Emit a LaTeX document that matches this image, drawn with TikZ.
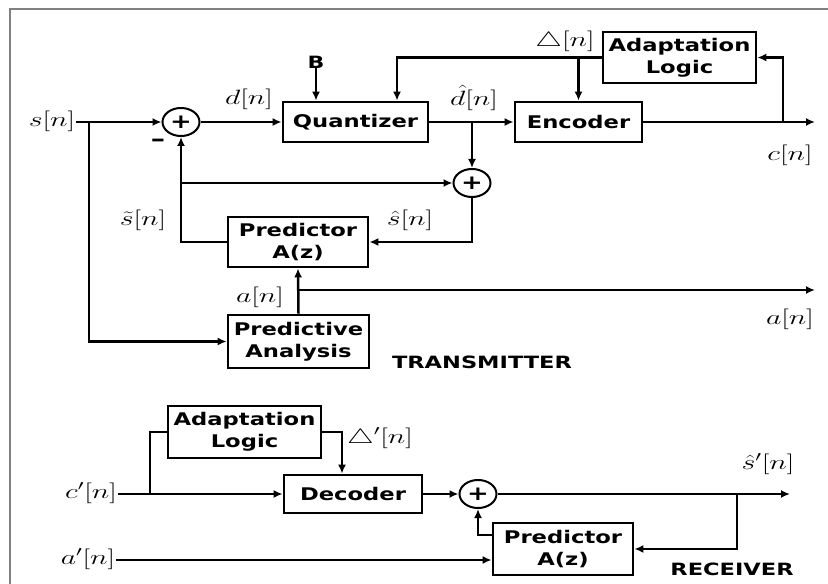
\documentclass[tikz,border=0pt]{standalone}
\usepackage{fontspec}
\usepackage{graphicx}
\usetikzlibrary{arrows.meta,shapes.geometric,calc}
\newfontfamily\boxfont[FakeStretch=1.3]{DejaVu Sans}
\newfontfamily\ttlfont[FakeStretch=1.33]{DejaVu Sans}
\newcommand{\mlab}[1]{\scalebox{1.45}[1.0]{\fontsize{20.74}{24}\selectfont$#1$}}
\tikzset{
  blk/.style={draw, line width=2.8bp, rectangle, align=center, inner sep=0pt,
    font=\boxfont\bfseries\fontsize{17.5}{22}\selectfont},
  sumnode/.style={draw, ellipse, line width=2bp, minimum width=37bp, minimum height=28bp, inner sep=0pt,
    font=\boxfont\bfseries\fontsize{20}{20}\selectfont},
  lbl/.style={inner sep=1bp},
  ttl/.style={font=\ttlfont\bfseries\fontsize{17}{20}\selectfont, inner sep=0pt},
  wire/.style={line width=2.5bp},
  arr/.style={line width=2.5bp, -{Latex[length=9bp,width=8bp]}},
}
\begin{document}
\begin{tikzpicture}[x=1bp,y=-1bp]
\useasboundingbox (0,0) rectangle (828,584);
\fill[white] (0,0) rectangle (828,584);
% frame
\draw[gray, line width=2bp] (10,584) -- (10,9) -- (828,9);

% ---------- TRANSMITTER ----------
\node[blk, minimum width=145bp, minimum height=40bp] (Q) at (355.5,122) {Quantizer};
\node[blk, minimum width=127bp, minimum height=40bp] (E) at (578.5,122) {Encoder};
\node[blk, minimum width=153bp, minimum height=51bp] (AT) at (679.5,57.5) {Adaptation\\Logic};
\node[blk, minimum width=140bp, minimum height=50bp] (PT) at (298,242) {Predictor\\A(z)};
\node[blk, minimum width=141bp, minimum height=53bp] (PA) at (298.5,341.5) {Predictive\\Analysis};
\node[sumnode] (S1) at (181,122) {+};
\node[sumnode] (S2) at (472,183) {+};

\node[lbl] (sn) at (52,121) {\mlab{s[n]}};
\node[lbl] (dn) at (249,99) {\mlab{d[n]}};
\node[lbl] (dhn) at (474,98) {\mlab{\hat{d}[n]}};
\node[lbl] (Dn) at (565,41) {\mlab{\triangle[n]}};
\node[lbl] (cn) at (790,155) {\mlab{c[n]}};
\node[lbl] (stn) at (143,220) {\mlab{\tilde{s}[n]}};
\node[lbl] (shn) at (410,220) {\mlab{\hat{s}[n]}};
\node[lbl] (an1) at (260,297) {\mlab{a[n]}};
\node[lbl] (an2) at (790,319) {\mlab{a[n]}};
\node[font=\boxfont\bfseries\fontsize{17}{19}\selectfont, inner sep=0pt] (B) at (316,62) {B};
\node[font=\boxfont\bfseries\fontsize{22}{22}\selectfont, inner sep=0pt] (minus) at (158,143) {–};
\node[ttl] (TX) at (482,362) {TRANSMITTER};

\coordinate (sout) at (815,122);
\coordinate (aout) at (815,290);
\coordinate (aj) at (298,290);

% wires
\draw[arr] (sn.east |- 0,122) -- (S1.west);
\draw[arr] (89,122) |- (PA.west);
\draw[arr] (S1.east) -- (Q.west);
\draw[arr] (B.south) -- (B.south |- Q.north);
\draw[arr] (AT.west) -| ([xshift=41.5bp]Q.north);
\draw[arr] (AT.west -| E.north) -- (E.north);
\draw[arr] (Q.east) -- (E.west);
\draw[arr] (S2.north |- Q.east) -- (S2.north);
\draw[arr] (PT.west) -| (S1.south);
\draw[arr] (S1.south |- S2.west) -- (S2.west);
\draw[arr] (S2.south) |- (PT.east);
\draw[arr] (E.east) -- (sout);
\draw[arr] (E.east -| 783,0) |- (AT.east);
\draw[arr] (PA.north) -- (PT.south);
\draw[arr] (aj) -- (aout);

% ---------- RECEIVER ----------
\node[blk, minimum width=153bp, minimum height=52bp] (AR) at (244.5,432) {Adaptation\\Logic};
\node[blk, minimum width=138bp, minimum height=38bp] (D) at (353,494) {Decoder};
\node[blk, minimum width=140bp, minimum height=52bp] (PR) at (563,549) {Predictor\\A(z)};
\node[sumnode] (S3) at (478,494) {+};

\node[lbl] (cpn) at (91,493) {\mlab{c'[n]}};
\node[lbl] (apn) at (88,559) {\mlab{a'[n]}};
\node[lbl] (Dpn) at (380,438) {\mlab{\triangle'[n]}};
\node[lbl] (shpn) at (768,464) {\mlab{\hat{s}'[n]}};
\node[ttl] (RX) at (732,569) {RECEIVER};
\coordinate (rout) at (790,494);

\draw[arr] (cpn.east |- 0,494) -- (D.west);
\draw[wire] (150,494) |- (AR.west);
\draw[arr] (AR.east) -| ([xshift=-11bp]D.north);
\draw[arr] (D.east) -- (S3.west);
\draw[arr] (S3.east) -- (rout);
\draw[arr] (S3.east -| 737,0) |- (PR.east);
\draw[arr] ([yshift=14bp]PR.west) -| (S3.south);
\draw[arr] (apn.east |- 0,560) -- (PR.west |- 0,560);
\end{tikzpicture}
\end{document}
